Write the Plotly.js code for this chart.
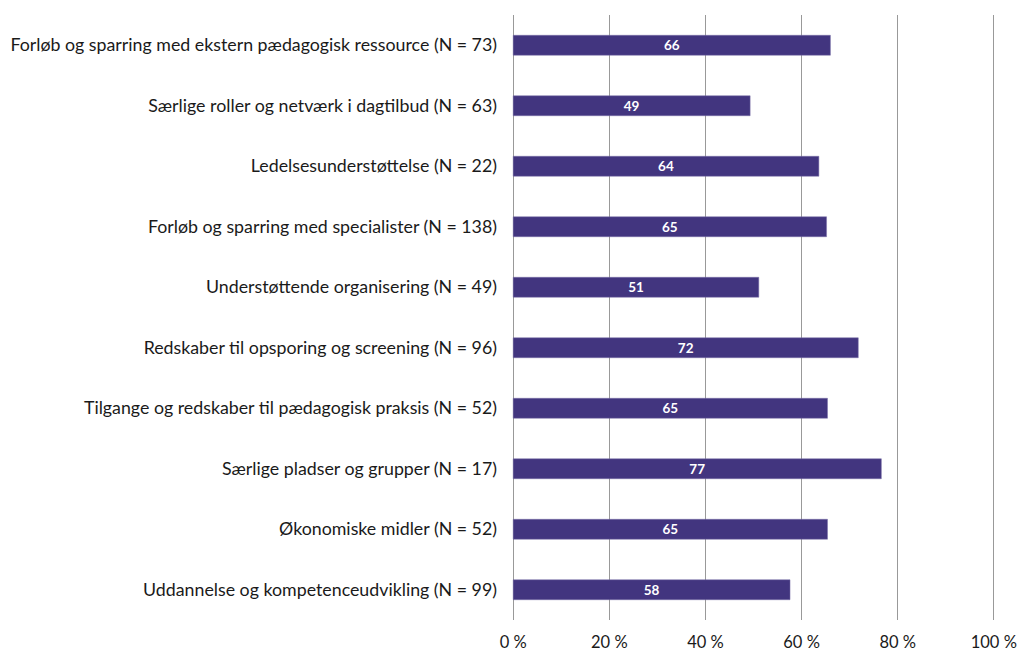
<!DOCTYPE html>
<html>
<head>
<meta charset="utf-8">
<script src="https://cdn.plot.ly/plotly-3.0.1.min.js"></script>
<style>html,body{margin:0;padding:0;background:#fff;}#chart{width:1018px;height:653px;}</style>
</head>
<body>
<div id="chart"></div>
<script>
const categories = [
  "Forløb og sparring med ekstern pædagogisk ressource (N = 73)",
  "Særlige roller og netværk i dagtilbud (N = 63)",
  "Ledelsesunderstøttelse (N = 22)",
  "Forløb og sparring med specialister (N = 138)",
  "Understøttende organisering (N = 49)",
  "Redskaber til opsporing og screening (N = 96)",
  "Tilgange og redskaber til pædagogisk praksis (N = 52)",
  "Særlige pladser og grupper (N = 17)",
  "Økonomiske midler (N = 52)",
  "Uddannelse og kompetenceudvikling (N = 99)"
];
const values = [66.0, 49.3, 63.6, 65.2, 51.1, 71.8, 65.4, 76.6, 65.4, 57.6];
const tickVals = [0, 20, 40, 60, 80, 100];
const tickText = ["0 %", "20 %", "40 %", "60 %", "80 %", "100 %"];

const FONT = "'Source Sans Pro', Lato, 'Noto Sans', sans-serif";

Plotly.newPlot('chart', [{
  type: 'bar',
  orientation: 'h',
  y: categories,
  x: values,
  marker: {color: '#42357f', line: {color: '#7a70a8', width: 0.5}},
  texttemplate: '%{x:.0f}',
  textposition: 'inside',
  insidetextanchor: 'middle',
  textangle: 0,
  constraintext: 'none',
  textfont: {color: '#ffffff', size: 13.5, family: FONT, weight: 'bold'},
  hoverinfo: 'none'
}], {
  width: 1018, height: 653,
  margin: {l: 512, r: 23, t: 15, b: 33},
  paper_bgcolor: '#ffffff',
  plot_bgcolor: '#ffffff',
  bargap: 0.67,
  showlegend: false,
  font: {family: FONT, size: 17.8, color: '#1a1a1a'},
  xaxis: {
    range: [-0.25, 100.25],
    tickvals: tickVals,
    ticktext: tickText,
    showgrid: true,
    gridcolor: '#999999',
    gridwidth: 1,
    zeroline: false,
    showline: false,
    ticks: '',
    ticklabelstandoff: 10,
    tickfont: {size: 16.5, family: FONT, color: '#1a1a1a'},
    fixedrange: true
  },
  yaxis: {
    autorange: 'reversed',
    showgrid: false,
    zeroline: false,
    ticks: '',
    ticklabelstandoff: 14,
    tickfont: {size: 17.8, family: FONT, color: '#1a1a1a'},
    fixedrange: true
  }
}, {displayModeBar: false, staticPlot: true});
</script>
</body>
</html>
